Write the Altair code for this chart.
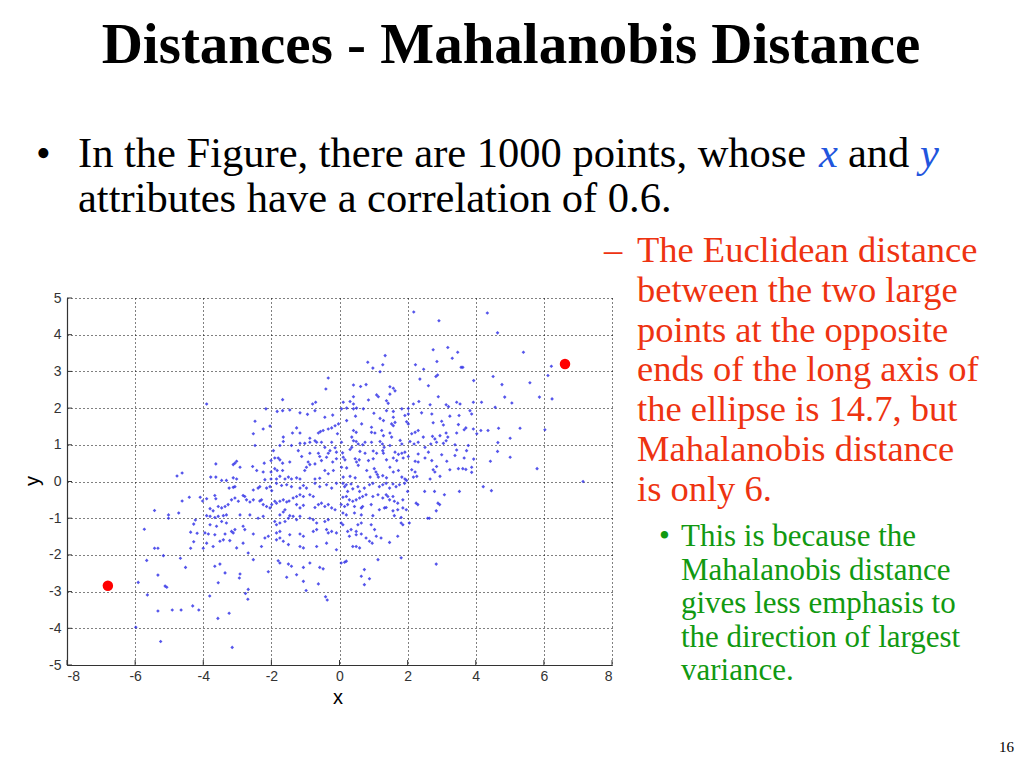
import altair as alt
import pandas as pd

# ---------------- data ----------------
blue_points = [
    # upper-left quadrant (x -4..0, y 0..3)
    (-3.90,2.11),(-1.67,2.23),(-2.16,1.98),(-0.79,2.11),(-0.70,2.16),(-0.33,2.82),(-0.40,2.52),(-1.83,1.91),
    (-1.67,1.93),(-1.46,1.95),(-1.16,1.87),(-0.94,1.83),(-0.72,1.93),(-0.43,1.75),(-0.20,1.81),(-2.48,1.64),
    (-2.53,1.30),(-2.24,1.43),(-2.04,1.51),(-1.65,1.21),(-1.38,1.32),(-1.26,1.46),(-1.16,1.32),(-0.87,1.18),
    (-0.62,1.32),(-0.56,1.36),(-0.48,1.39),(-0.33,1.43),(-0.23,1.46),(-0.13,1.52),(-0.03,1.57),(-0.06,1.30),
    (-2.48,0.98),(-1.65,1.09),(-1.75,0.98),(-1.41,0.98),(-1.16,1.04),(-1.02,1.04),(-0.87,1.07),(-0.72,1.11),
    (-0.67,1.07),(-0.53,1.07),(-0.43,0.93),(-0.23,1.07),(-0.13,0.92),(-0.09,0.80),(-1.94,0.84),(-1.90,0.64),
    (-1.80,0.64),(-1.75,0.59),(-2.01,0.57),(-1.67,0.50),(-1.46,0.53),(-1.21,0.84),(-1.11,0.68),(-0.87,0.77),
    (-0.62,0.77),(-0.58,0.68),(-0.92,0.53),(-0.87,0.46),(-0.97,0.39),(-1.02,0.30),(-0.72,0.48),(-0.53,0.57),
    (-0.38,0.66),(-0.33,0.77),(-0.28,0.84),(-0.20,0.53),(-0.09,0.62),(-0.18,0.30),(-0.43,0.30),(-0.33,0.21),
    (-3.63,0.48),(-3.12,0.46),(-3.07,0.50),(-3.02,0.55),(-2.92,0.39),(-2.55,0.41),(-2.43,0.30),(-2.21,0.50),
    (-2.24,0.26),(-2.01,0.26),(-1.90,0.35),(-1.83,0.30),(-1.67,0.30),(-1.75,0.14),(-1.85,0.07),(-3.78,0.12),
    (-3.63,0.12),(-3.46,0.03),(-3.32,0.03),(-3.12,0.10),(-3.02,0.07),(-2.19,0.05),(-2.01,0.07),(-1.60,0.07),
    (-1.50,0.12),(-1.41,0.07),(-1.26,0.10),(-1.16,0.07),(-0.72,0.07),(-0.58,0.09),
    # upper-right quadrant (x 0..4, y 0..3)
    (1.19,2.99),(0.41,2.63),(0.62,2.59),(0.78,2.64),(1.48,2.58),(1.58,2.54),(1.63,2.47),(2.36,2.79),
    (2.83,2.86),(2.88,2.90),(2.61,2.61),(2.90,2.31),(0.41,2.31),(0.31,2.18),(0.41,2.11),(1.09,2.36),
    (1.14,2.31),(1.48,2.38),(0.85,2.22),(1.38,2.20),(1.43,2.13),(0.11,2.16),(2.33,2.18),(2.17,2.11),
    (2.66,2.09),(3.13,2.09),(3.20,2.04),(3.44,2.16),(3.54,2.11),(3.93,2.16),(0.06,1.98),(0.21,2.00),
    (0.41,1.98),(0.50,2.00),(0.70,1.98),(1.01,1.86),(1.38,1.93),(1.58,1.91),(1.83,1.98),(2.02,1.99),
    (2.02,1.84),(2.41,1.87),(2.71,1.84),(3.24,1.78),(3.51,1.80),(3.83,1.93),(3.88,1.84),(0.47,1.78),
    (0.21,1.66),(1.19,1.72),(1.29,1.66),(1.58,1.75),(1.92,1.80),(0.65,1.57),(0.94,1.48),(1.53,1.57),
    (1.58,1.52),(1.63,1.61),(1.97,1.63),(2.02,1.57),(2.75,1.60),(3.00,1.64),(3.05,1.54),(3.49,1.55),
    (3.66,1.41),(3.71,1.46),(3.93,1.43),(0.41,1.39),(0.49,1.34),(0.36,1.21),(0.94,1.34),(1.04,1.32),
    (1.24,1.39),(1.29,1.25),(1.48,1.32),(1.53,1.21),(2.12,1.30),(2.22,1.34),(2.31,1.39),(2.46,1.21),
    (2.73,1.23),(2.80,1.16),(2.95,1.25),(3.13,1.32),(3.18,1.21),(3.44,1.32),(4.03,1.30),(0.06,1.07),
    (0.36,0.93),(0.41,1.11),(0.49,1.09),(0.55,1.02),(0.68,1.00),(0.75,1.07),(0.94,1.07),(1.19,1.09),
    (1.26,1.02),(1.31,0.93),(1.48,0.98),(1.78,1.12),(1.83,1.02),(2.07,1.09),(2.19,1.02),(2.31,1.07),
    (2.51,0.93),(2.68,1.02),(2.85,1.07),(3.05,1.04),(3.13,1.11),(3.39,1.00),(3.44,0.86),(3.78,0.98),
    (3.73,0.84),(0.31,0.87),(0.09,0.78),(0.60,0.82),(0.75,0.77),(0.99,0.83),(1.09,0.77),(1.27,0.84),
    (1.29,0.77),(1.63,0.80),(1.73,0.74),(1.83,0.77),(1.92,0.80),(2.02,0.68),(2.31,0.75),(2.61,0.80),
    (2.71,0.57),(3.00,0.73),(3.39,0.71),(3.66,0.64),(0.11,0.66),(0.16,0.59),(0.46,0.62),(0.50,0.53),
    (0.58,0.59),(0.85,0.57),(0.99,0.62),(1.38,0.59),(1.58,0.64),(1.68,0.57),(1.87,0.64),(2.22,0.55),
    (2.31,0.53),(2.51,0.64),(2.85,0.41),(3.15,0.55),(3.49,0.35),(3.62,0.35),(3.71,0.33),(3.88,0.39),
    (0.06,0.39),(0.21,0.37),(0.55,0.44),(0.80,0.30),(1.02,0.35),(1.07,0.26),(1.11,0.19),(1.14,0.12),
    (1.48,0.39),(1.58,0.26),(1.73,0.30),(2.12,0.32),(2.22,0.26),(2.17,0.12),(2.75,0.32),(2.80,0.26),
    (3.24,0.32),(0.11,0.12),(0.31,0.14),(0.46,0.10),(0.90,0.12),(1.27,0.16),(1.38,0.10),(1.83,0.12),
    (1.92,0.07),(1.97,0.03),(2.27,0.14),(2.66,0.07),(2.95,0.14),(3.94,2.75),(3.94,0.61),(3.88,0.25),
    # lower-left quadrant (x -4..0, y -3..0)
    (-3.66,-0.38),(-3.63,-0.47),(-3.90,-0.47),(-3.24,-0.18),(-3.12,-0.16),(-3.07,-0.14),(-2.83,-0.38),(-2.78,-0.41),
    (-2.53,-0.23),(-2.39,-0.18),(-2.34,-0.14),(-2.14,-0.18),(-2.04,-0.14),(-1.99,-0.25),(-1.85,-0.05),(-1.70,-0.11),
    (-1.55,-0.09),(-1.41,-0.14),(-1.16,-0.18),(-1.06,-0.11),(-0.97,-0.18),(-0.72,-0.05),(-0.58,-0.14),(-0.38,-0.09),
    (-0.23,-0.18),(-0.09,-0.05),(-3.56,-0.68),(-3.46,-0.72),(-3.36,-0.68),(-3.27,-0.63),(-3.80,-0.74),(-3.71,-0.80),
    (-3.17,-0.50),(-3.07,-0.45),(-2.97,-0.54),(-2.73,-0.50),(-2.63,-0.56),(-2.53,-0.50),(-2.34,-0.53),(-2.29,-0.50),
    (-2.24,-0.63),(-2.14,-0.68),(-2.04,-0.72),(-1.99,-0.63),(-1.90,-0.54),(-1.85,-0.59),(-1.75,-0.54),(-1.65,-0.50),
    (-1.55,-0.56),(-1.48,-0.53),(-1.36,-0.45),(-1.26,-0.41),(-1.16,-0.36),(-1.06,-0.41),(-0.87,-0.36),(-0.77,-0.41),
    (-0.72,-0.71),(-0.62,-0.63),(-0.53,-0.59),(-0.43,-0.68),(-0.33,-0.63),(-0.23,-0.72),(-0.13,-0.77),(-1.26,-0.63),
    (-1.16,-0.72),(-1.06,-0.65),(-1.75,-0.91),(-1.65,-0.83),(-1.60,-0.77),(-1.46,-0.93),(-1.36,-0.95),(-3.90,-0.93),
    (-3.80,-0.95),(-3.66,-0.98),(-3.56,-0.95),(-3.41,-0.93),(-3.32,-0.91),(-2.92,-0.91),(-2.63,-0.91),(-2.39,-1.00),
    (-2.24,-0.95),(-1.90,-1.09),(-1.85,-1.18),(-1.75,-1.13),(-1.60,-1.09),(-1.50,-1.00),(-1.26,-1.04),(-1.16,-0.95),
    (-0.87,-1.00),(-0.77,-1.04),(-0.67,-1.13),(-0.43,-1.09),(-0.33,-1.04),(-3.80,-1.18),(-3.61,-1.22),(-3.46,-1.09),
    (-3.32,-1.13),(-3.17,-1.36),(-3.07,-1.31),(-3.12,-1.40),(-2.83,-1.22),(-2.78,-1.31),(-3.95,-1.40),(-3.85,-1.43),
    (-3.66,-1.45),(-3.36,-1.43),(-2.53,-1.43),(-2.19,-1.54),(-2.09,-1.49),(-1.85,-1.40),(-1.75,-1.36),(-1.46,-1.45),
    (-1.16,-1.43),(-1.06,-1.49),(-0.77,-1.36),(-0.67,-1.31),(-0.38,-1.31),(-0.33,-1.40),(-0.23,-1.36),(-0.09,-1.40),
    (-3.90,-1.68),(-3.71,-1.77),(-3.51,-1.63),(-3.41,-1.59),(-3.22,-1.61),(-3.02,-1.81),(-2.83,-1.68),(-2.29,-1.77),
    (-1.85,-1.59),(-1.75,-1.54),(-1.65,-1.63),(-1.50,-1.72),(-1.16,-1.77),(-1.06,-1.81),(-0.67,-1.77),(-0.38,-1.68),
    (-0.09,-1.86),(-2.68,-1.95),(-2.53,-2.13),(-1.80,-2.16),(-1.75,-2.22),(-1.50,-2.25),(-1.41,-2.31),(-1.06,-2.34),
    (-0.87,-2.22),(-0.58,-2.34),(-0.48,-2.38),(-3.66,-2.31),(-3.51,-2.25),(-3.36,-2.49),(-2.92,-2.52),(-2.09,-2.46),
    (-3.56,-2.76),(-2.94,-2.63),(-1.55,-2.61),(-1.26,-2.54),(-1.06,-2.72),(-0.62,-2.79),(-2.68,-2.94),(-0.98,-2.97),
    (-4.09,-0.43),(-4.02,-0.53),(-4.00,-1.82),
    # lower-right quadrant (x 0..4, y -3..0)
    (0.10,-0.05),(0.20,-0.09),(0.34,-0.07),(0.15,-0.14),(0.24,-0.27),(0.39,-0.20),(0.54,-0.14),(0.59,-0.27),
    (0.73,-0.18),(0.88,-0.09),(0.98,-0.05),(1.17,-0.14),(1.27,-0.09),(1.37,-0.05),(1.47,-0.18),(1.57,-0.07),
    (1.66,-0.14),(1.76,-0.09),(1.91,-0.05),(2.00,-0.27),(0.10,-0.43),(0.20,-0.41),(0.29,-0.50),(0.39,-0.54),
    (0.49,-0.50),(0.59,-0.45),(0.68,-0.41),(0.78,-0.36),(0.98,-0.41),(1.13,-0.36),(1.27,-0.45),(1.37,-0.36),
    (1.42,-0.41),(1.61,-0.54),(1.71,-0.59),(1.86,-0.50),(0.05,-0.63),(0.15,-0.68),(0.24,-0.63),(0.44,-0.68),
    (0.64,-0.72),(0.68,-0.68),(0.93,-0.63),(1.47,-0.50),(1.57,-0.41),(1.17,-0.77),(1.32,-0.72),(1.37,-0.71),
    (1.57,-0.80),(1.71,-0.77),(1.86,-0.72),(1.96,-0.77),(0.10,-0.86),(0.20,-0.91),(0.44,-0.86),(0.64,-0.91),
    (0.98,-0.93),(1.61,-0.93),(1.81,-0.98),(2.25,-0.59),(2.30,-0.63),(2.50,-0.27),(2.79,-0.27),(2.89,-0.59),
    (2.94,-0.63),(3.08,-0.36),(3.52,-0.27),(2.84,-0.80),(2.59,-1.00),(2.64,-1.00),(2.05,-1.13),(0.05,-1.13),
    (0.10,-1.18),(0.24,-1.36),(0.34,-1.31),(0.49,-1.36),(0.54,-1.18),(0.64,-1.13),(0.93,-1.18),(1.03,-1.31),
    (0.29,-1.49),(0.49,-1.45),(0.64,-1.43),(1.08,-1.49),(1.22,-1.54),(0.78,-1.54),(0.88,-1.63),(0.96,-1.68),
    (1.47,-1.66),(1.71,-1.49),(1.81,-1.13),(1.86,-1.18),(0.39,-1.77),(0.49,-1.77),(0.59,-1.81),(0.20,-2.17),
    (0.15,-2.20),(0.05,-2.22),(0.73,-2.40),(1.13,-2.13),(1.81,-2.08),(0.64,-2.58),(0.88,-2.65),(0.73,-2.81),
    (2.84,-2.25),
    # outer points
    (2.18,4.62),(2.92,4.38),(4.34,4.59),(4.64,4.05),(5.40,3.52),(6.12,2.89),(6.22,3.14),(5.59,2.69),
    (6.24,2.25),(5.87,2.30),(4.85,2.30),(5.06,2.14),(4.77,2.64),(4.51,2.86),(4.57,2.02),(4.17,2.16),
    (5.30,1.45),(6.03,1.41),(5.01,1.18),(4.65,1.06),(4.64,0.82),(5.01,0.66),(4.43,0.55),(4.67,1.45),
    (4.36,1.39),(4.15,1.39),(5.80,0.35),(7.15,0.00),(4.22,-0.14),(4.46,-0.25),
    (0.83,3.25),(1.34,3.43),(0.98,3.09),(1.27,3.18),(2.23,3.18),(2.47,3.06),(2.86,3.27),(2.75,3.59),
    (3.18,3.65),(3.47,3.52),(3.31,3.36),(3.57,3.11),(3.62,3.11),
    (-5.98,-3.97),(-5.25,-4.36),(-3.15,-4.52),(-3.57,-3.73),(-3.24,-3.59),(-5.33,-3.53),(-4.91,-3.50),(-4.65,-3.50),
    (-4.31,-3.39),(-4.13,-3.50),(-5.64,-3.09),(-5.91,-2.75),(-5.12,-2.85),(-5.07,-2.88),(-5.33,-2.55),(-5.66,-2.15),
    (-5.17,-2.02),(-5.43,-1.82),(-5.33,-1.82),(-5.73,-1.30),(-5.43,-0.79),(-5.02,-0.91),(-5.02,-1.00),(-4.72,-0.86),
    (-4.77,0.15),(-4.62,0.23),(-4.62,-0.53),(-4.41,-0.43),(-4.52,-2.34),(-4.67,-2.09),(-4.37,-1.82),(-4.23,-1.05),
    (-4.28,-1.16),(-4.37,-1.38),(-4.28,-1.64),(-4.18,-1.41),(-3.81,-3.12),(-2.76,-3.05),(-2.69,-3.21),(-0.41,-3.14),
    (-0.36,-3.23),
]
red_x = [-6.80, 6.62]
red_y = [-2.84, 3.20]

x_ticks = [-8, -6, -4, -2, 0, 2, 4, 6, 8]
y_ticks = [-5, -4, -3, -2, -1, 0, 1, 2, 3, 4, 5]

title_text = "Distances - Mahalanobis Distance"
bullet_line1 = "In the Figure, there are 1000 points, whose"
bullet_line2 = "attributes have a correlation of 0.6."
red_lines = [
    "The Euclidean distance",
    "between the two large",
    "points at the opposite",
    "ends of the long axis of",
    "the ellipse is 14.7, but",
    "Mahalanobis distance",
    "is only 6.",
]
green_lines = [
    "This is because the",
    "Mahalanobis distance",
    "gives less emphasis to",
    "the direction of largest",
    "variance.",
]
page_number = "16"

# ---------------- chart ----------------
W, H = 545, 367
blue_df = pd.DataFrame(blue_points, columns=["x", "y"])
red_df = pd.DataFrame({"x": red_x, "y": red_y})

xs = alt.Scale(domain=[-8, 8], nice=False, zero=False)
ys = alt.Scale(domain=[-5, 5], nice=False, zero=False)

axis_common = dict(
    grid=True, gridColor="#000000", gridDash=[1, 3], gridOpacity=1, gridWidth=1,
    domainColor="#333333", domainWidth=1.2, ticks=False, labelOverlap=False,
    labelFont="Liberation Sans", labelFontSize=14, labelColor="#333333", title=None,
    labelExpr="'' + datum.value",
)
x_axis = alt.Axis(values=x_ticks, labelPadding=4, **axis_common)
y_axis = alt.Axis(values=y_ticks, labelPadding=6, **axis_common)

base = alt.Chart(blue_df).mark_point(
    shape="diamond", filled=True, size=13, color="#2a2ae6", opacity=0.8
).encode(
    x=alt.X("x:Q", scale=xs, axis=x_axis),
    y=alt.Y("y:Q", scale=ys, axis=y_axis),
)

red = alt.Chart(red_df).mark_circle(size=110, color="#ff0000", opacity=1).encode(
    x=alt.X("x:Q", scale=xs, axis=x_axis), y=alt.Y("y:Q", scale=ys, axis=y_axis)
)

xt = alt.Chart(pd.DataFrame({"x": x_ticks})).mark_rule(color="#333333", strokeWidth=1).encode(
    x=alt.X("x:Q", scale=xs, axis=x_axis), y=alt.value(H), y2=alt.value(H - 5)
)
yt = alt.Chart(pd.DataFrame({"y": y_ticks})).mark_rule(color="#333333", strokeWidth=1).encode(
    y=alt.Y("y:Q", scale=ys, axis=y_axis), x=alt.value(0), x2=alt.value(5)
)

OX, OY = 67, 298  # page position of plot origin


def txt(s, px, py, size, color="#000000", font="Liberation Serif", weight="normal",
        style="normal", align="left", baseline="alphabetic", angle=0):
    kw = dict(font=font, fontSize=size, color=color, fontWeight=weight, fontStyle=style,
              align=align, baseline=baseline)
    if angle:
        kw["angle"] = angle
    return alt.Chart(pd.DataFrame({"t": [s]})).mark_text(**kw).encode(
        x=alt.value(px - OX), y=alt.value(py - OY), text="t:N"
    )


texts = [
    txt(title_text, 511, 63, 57, weight="bold", align="center"),
    txt("\u2022", 36, 167, 42),
    txt(bullet_line1, 78, 167, 42.5),
    txt("x", 819, 167, 42.5, color="#2255dd", style="italic"),
    txt("and", 848, 167, 42.5),
    txt("y", 920, 167, 42.5, color="#2255dd", style="italic"),
    txt(bullet_line2, 78, 212, 42.5),
    txt("\u2013", 604, 262, 36.5, color="#ee3311"),
    txt("x", 338, 698, 20, font="Liberation Sans", align="center", baseline="middle"),
    txt("y", 33, 481, 20, font="Liberation Sans", align="center", baseline="middle", angle=270),
    txt("\u2022", 659, 546, 31, color="#119911"),
    txt(page_number, 1014, 752, 15, align="right"),
]
for i, line in enumerate(red_lines):
    texts.append(txt(line, 637, 262 + i * 39.8, 36.5, color="#ee3311"))
for i, line in enumerate(green_lines):
    texts.append(txt(line, 681, 546 + i * 33.5, 31, color="#119911"))

chart = alt.layer(base, xt, yt, red, *texts).properties(
    width=W, height=H,
    autosize=alt.AutoSizeParams(type="none"),
    padding={"left": OX - 8, "top": OY - 8, "right": 1016 - OX - W, "bottom": 760 - OY - H},
    background="white",
).configure_view(stroke=None).configure_axis(labelOverlap=False)

chart.save("out.html", embed_options={"renderer": "svg", "actions": False})
